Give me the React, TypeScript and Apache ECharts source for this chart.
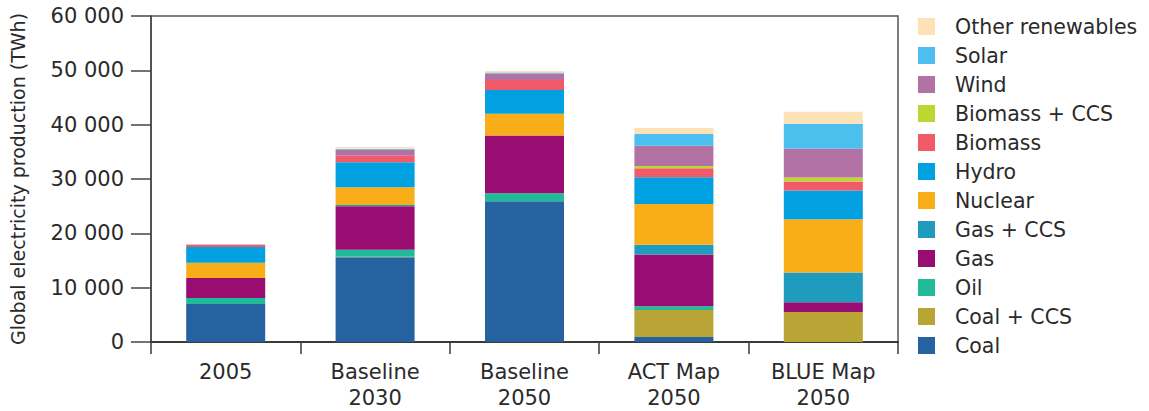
import React, { useEffect, useRef } from "react";
import * as echarts from "echarts";

const categories = ["2005", "Baseline\n2030", "Baseline\n2050", "ACT Map\n2050", "BLUE Map\n2050"];
const yTicks = [0, 10000, 20000, 30000, 40000, 50000, 60000];

const coal = [7000, 15600, 25900, 900, 0];
const coalCCS = [0, 100, 0, 5000, 5500];
const oil = [1100, 1300, 1500, 700, 0];
const gas = [3700, 8000, 10600, 9500, 1800];
const gasCCS = [0, 200, 0, 1800, 5500];
const nuclear = [2800, 3300, 4000, 7500, 9800];
const hydro = [2900, 4600, 4400, 4900, 5300];
const biomass = [350, 1200, 1800, 1700, 1650];
const biomassCCS = [0, 0, 0, 400, 730];
const wind = [100, 1100, 1200, 3700, 5300];
const solar = [0, 100, 200, 2200, 4600];
const other = [50, 400, 300, 1100, 2200];

const seriesDefs = [
  { name: "Coal", data: coal, color: "#2662a0" },
  { name: "Coal + CCS", data: coalCCS, color: "#b8a535" },
  { name: "Oil", data: oil, color: "#22bb9a" },
  { name: "Gas", data: gas, color: "#990d72" },
  { name: "Gas + CCS", data: gasCCS, color: "#1f9bbd" },
  { name: "Nuclear", data: nuclear, color: "#f9ae19" },
  { name: "Hydro", data: hydro, color: "#00a0e1" },
  { name: "Biomass", data: biomass, color: "#f05a69" },
  { name: "Biomass + CCS", data: biomassCCS, color: "#bed631" },
  { name: "Wind", data: wind, color: "#b372a4" },
  { name: "Solar", data: solar, color: "#4cbfee" },
  { name: "Other renewables", data: other, color: "#fde2b8" },
];

const FONT = "'DejaVu Sans', sans-serif";
const AXIS_COLOR = "#3a3a3a";
const TEXT_COLOR = "#2a2a2a";

export default function App() {
  const ref = useRef<HTMLDivElement>(null);
  useEffect(() => {
    if (!ref.current) return;
    const chart = echarts.init(ref.current, undefined, { renderer: "svg" });
    chart.setOption({
      animation: false,
      textStyle: { fontFamily: FONT },
      grid: {
        left: 150,
        right: 251,
        top: 16,
        bottom: 68,
        containLabel: false,
        show: true,
        borderColor: "#555555",
        borderWidth: 1.5,
      },
      legend: {
        orient: "vertical",
        left: 918,
        top: 16,
        padding: 0,
        itemWidth: 17,
        itemHeight: 17,
        itemGap: 8.0,
        icon: "rect",
        data: seriesDefs.map((s) => s.name).reverse(),
        textStyle: {
          fontSize: 20.5,
          color: TEXT_COLOR,
          fontFamily: FONT,
          padding: [0, 0, 0, 15],
        },
      },
      xAxis: {
        type: "category",
        data: categories,
        axisLine: { lineStyle: { color: AXIS_COLOR, width: 2 } },
        axisTick: { show: true, length: 12, lineStyle: { color: AXIS_COLOR, width: 1.5 }, alignWithLabel: false },
        axisLabel: { fontSize: 21, color: TEXT_COLOR, lineHeight: 26, margin: 17, fontFamily: FONT },
      },
      yAxis: {
        type: "value",
        min: 0,
        max: 60000,
        interval: 10000,
        name: "Global electricity production (TWh)",
        nameLocation: "middle",
        nameGap: 124,
        nameTextStyle: { fontSize: 19, color: TEXT_COLOR, fontFamily: FONT },
        axisLine: { show: true, lineStyle: { color: "#444444", width: 1.5 } },
        axisTick: { show: true, inside: false, length: 20, lineStyle: { color: "#444444", width: 1.5 } },
        splitLine: { show: false },
        axisLabel: {
          fontSize: 21,
          color: TEXT_COLOR,
          margin: 27,
          fontFamily: FONT,
          formatter: (v: number) => (yTicks.includes(v) ? (v >= 1000 ? `${Math.floor(v / 1000)} 000` : `${v}`) : ""),
        },
      },
      series: seriesDefs.map((s) => ({
        name: s.name,
        type: "bar",
        stack: "total",
        data: s.data,
        barWidth: 79,
        itemStyle: { color: s.color },
      })),
    });
    return () => chart.dispose();
  }, []);
  return <div ref={ref} style={{ width: 1149, height: 411, position: "absolute", left: 0, top: 0 }} />;
}
